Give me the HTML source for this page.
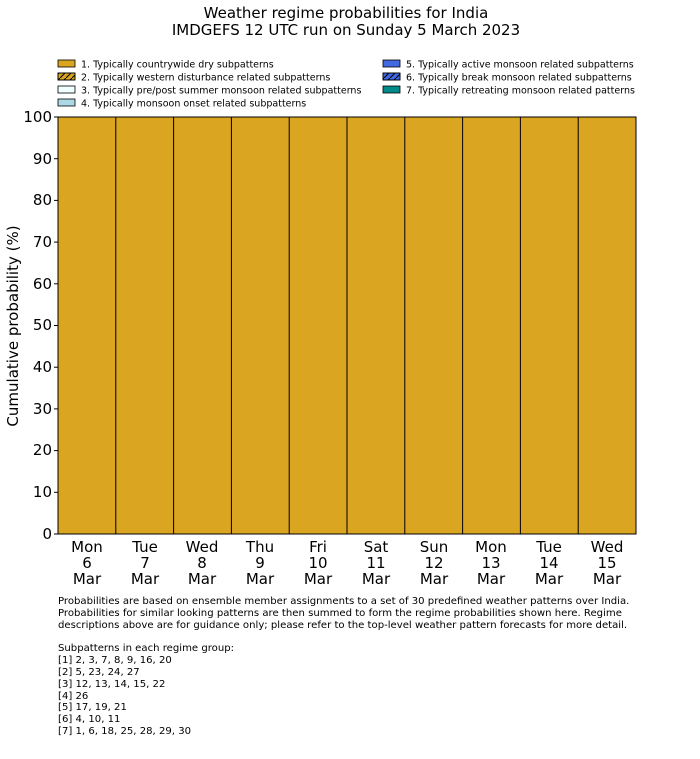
<!DOCTYPE html>
<html><head><style>body{margin:0;background:#fff}svg text{font-family:"DejaVu Sans","Liberation Sans",sans-serif}</style></head><body>
<svg width="700" height="754" viewBox="0 0 700 754" xmlns="http://www.w3.org/2000/svg">
<defs><pattern id="h" patternUnits="userSpaceOnUse" width="6" height="6"><path d="M0,6 L6,0" stroke="#000" stroke-width="1"/></pattern></defs>
<text x="346" y="18" font-size="15" text-anchor="middle">Weather regime probabilities for India</text>
<text x="346" y="35" font-size="15" text-anchor="middle">IMDGEFS 12 UTC run on Sunday 5 March 2023</text>
<g font-size="10" stroke="#000" stroke-width="0.8">
<rect x="58" y="60" width="17" height="7" fill="#DAA520"/>
<rect x="58" y="73" width="17" height="7" fill="#DAA520"/><rect x="58" y="73" width="17" height="7" fill="url(#h)"/>
<rect x="58" y="86" width="17" height="7" fill="#F0FFFF"/>
<rect x="58" y="99" width="17" height="7" fill="#ADD8E6"/>
<rect x="383" y="60" width="17" height="7" fill="#4169E1"/>
<rect x="383" y="73" width="17" height="7" fill="#4169E1"/><rect x="383" y="73" width="17" height="7" fill="url(#h)"/>
<rect x="383" y="86" width="17" height="7" fill="#008B8B"/>
</g>
<g font-size="9.5">
<text x="81" y="67.5">1. Typically countrywide dry subpatterns</text>
<text x="81" y="80.5">2. Typically western disturbance related subpatterns</text>
<text x="81" y="93.5">3. Typically pre/post summer monsoon related subpatterns</text>
<text x="81" y="106.5">4. Typically monsoon onset related subpatterns</text>
<text x="406" y="67.5">5. Typically active monsoon related subpatterns</text>
<text x="406" y="80.5">6. Typically break monsoon related subpatterns</text>
<text x="406" y="93.5">7. Typically retreating monsoon related patterns</text>
</g>
<rect x="58" y="117" width="578" height="417" fill="#DAA520" stroke="#000" stroke-width="1"/>
<g stroke="#000" stroke-width="1">
<line x1="115.8" y1="117" x2="115.8" y2="534"/><line x1="173.6" y1="117" x2="173.6" y2="534"/><line x1="231.4" y1="117" x2="231.4" y2="534"/><line x1="289.2" y1="117" x2="289.2" y2="534"/><line x1="347" y1="117" x2="347" y2="534"/><line x1="404.8" y1="117" x2="404.8" y2="534"/><line x1="462.6" y1="117" x2="462.6" y2="534"/><line x1="520.4" y1="117" x2="520.4" y2="534"/><line x1="578.2" y1="117" x2="578.2" y2="534"/>
</g>
<g font-size="15" text-anchor="end">
<text x="52" y="539">0</text><text x="52" y="497">10</text><text x="52" y="455">20</text><text x="52" y="414">30</text><text x="52" y="372">40</text><text x="52" y="330">50</text><text x="52" y="289">60</text><text x="52" y="247">70</text><text x="52" y="205">80</text><text x="52" y="164">90</text><text x="52" y="122">100</text>
</g>
<g stroke="#000"><line x1="54" y1="534" x2="58" y2="534"/><line x1="54" y1="492.3" x2="58" y2="492.3"/><line x1="54" y1="450.6" x2="58" y2="450.6"/><line x1="54" y1="408.9" x2="58" y2="408.9"/><line x1="54" y1="367.2" x2="58" y2="367.2"/><line x1="54" y1="325.5" x2="58" y2="325.5"/><line x1="54" y1="283.8" x2="58" y2="283.8"/><line x1="54" y1="242.1" x2="58" y2="242.1"/><line x1="54" y1="200.4" x2="58" y2="200.4"/><line x1="54" y1="158.7" x2="58" y2="158.7"/><line x1="54" y1="117" x2="58" y2="117"/></g>
<text transform="translate(18,326) rotate(-90)" font-size="15" text-anchor="middle">Cumulative probability (%)</text>
<g font-size="15" text-anchor="middle">
<text x="87" y="552">Mon</text><text x="87" y="568">6</text><text x="87" y="584">Mar</text>
<text x="145" y="552">Tue</text><text x="145" y="568">7</text><text x="145" y="584">Mar</text>
<text x="202" y="552">Wed</text><text x="202" y="568">8</text><text x="202" y="584">Mar</text>
<text x="260" y="552">Thu</text><text x="260" y="568">9</text><text x="260" y="584">Mar</text>
<text x="318" y="552">Fri</text><text x="318" y="568">10</text><text x="318" y="584">Mar</text>
<text x="376" y="552">Sat</text><text x="376" y="568">11</text><text x="376" y="584">Mar</text>
<text x="434" y="552">Sun</text><text x="434" y="568">12</text><text x="434" y="584">Mar</text>
<text x="491" y="552">Mon</text><text x="491" y="568">13</text><text x="491" y="584">Mar</text>
<text x="549" y="552">Tue</text><text x="549" y="568">14</text><text x="549" y="584">Mar</text>
<text x="607" y="552">Wed</text><text x="607" y="568">15</text><text x="607" y="584">Mar</text>
</g>
<g font-size="10.1">
<text x="58" y="604">Probabilities are based on ensemble member assignments to a set of 30 predefined weather patterns over India.</text>
<text x="58" y="616">Probabilities for similar looking patterns are then summed to form the regime probabilities shown here. Regime</text>
<text x="58" y="628">descriptions above are for guidance only; please refer to the top-level weather pattern forecasts for more detail.</text>
<text x="58" y="651">Subpatterns in each regime group:</text>
<text x="58" y="663">[1] 2, 3, 7, 8, 9, 16, 20</text>
<text x="58" y="675">[2] 5, 23, 24, 27</text>
<text x="58" y="687">[3] 12, 13, 14, 15, 22</text>
<text x="58" y="699">[4] 26</text>
<text x="58" y="710">[5] 17, 19, 21</text>
<text x="58" y="722">[6] 4, 10, 11</text>
<text x="58" y="734">[7] 1, 6, 18, 25, 28, 29, 30</text>
</g>
</svg>
</body></html>
